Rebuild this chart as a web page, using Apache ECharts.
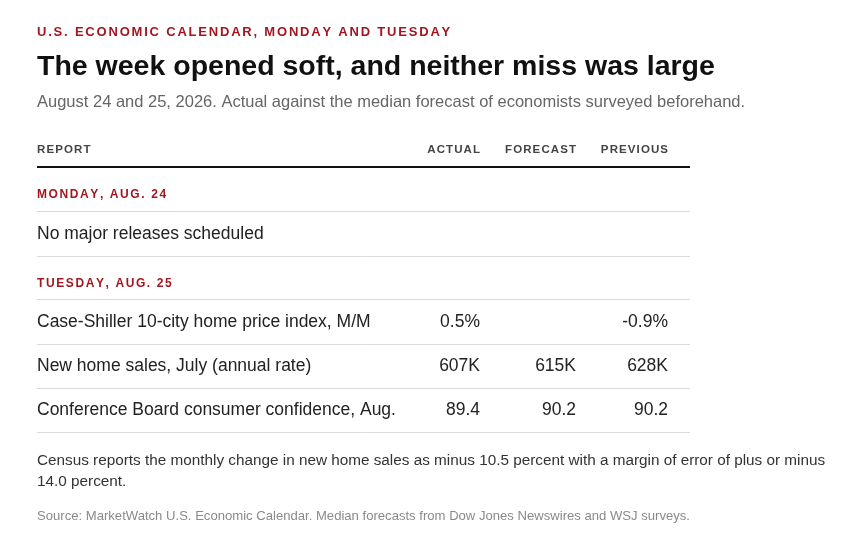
<!DOCTYPE html>
<html>
<head>
<meta charset="utf-8">
<script src="https://cdn.jsdelivr.net/npm/echarts@6/dist/echarts.min.js"></script>
<style>
  html, body { margin: 0; padding: 0; background: #fff; }
  #table1 { width: 858px; height: 555px; }
</style>
</head>
<body>
<div id="table1"></div>
<script>
  /* table data */
  var kicker = 'U.S. ECONOMIC CALENDAR, MONDAY AND TUESDAY';
  var title = 'The week opened soft, and neither miss was large';
  var subtitle = 'August 24 and 25, 2026. Actual against the median forecast of economists surveyed beforehand.';
  var columns = ['REPORT', 'ACTUAL', 'FORECAST', 'PREVIOUS'];
  var days = ['MONDAY, AUG. 24', 'TUESDAY, AUG. 25'];
  var mondayNote = 'No major releases scheduled';
  var reports = [
    'Case-Shiller 10-city home price index, M/M',
    'New home sales, July (annual rate)',
    'Conference Board consumer confidence, Aug.'
  ];
  var actual = ['0.5%', '607K', '89.4'];
  var forecast = ['', '615K', '90.2'];
  var previous = ['-0.9%', '628K', '90.2'];
  var noteLines = [
    'Census reports the monthly change in new home sales as minus 10.5 percent with a margin of error of plus or minus',
    '14.0 percent.'
  ];
  var source = 'Source: MarketWatch U.S. Economic Calendar. Median forecasts from Dow Jones Newswires and WSJ surveys.';

  var FONT = '"Liberation Sans", Arial, Helvetica, sans-serif';
  var RED = '#a3161f';
  var left = 37;
  var tableRight = 690;
  var colRight = [480, 576, 668];

  var ctx = document.createElement('canvas').getContext('2d');

  // zrender has no letter-spacing, so lay the caps out one glyph at a time
  function spaced(str, x, y, size, spacing, color, alignRight) {
    ctx.font = 'bold ' + size + 'px ' + FONT;
    var widths = str.split('').map(function (c) { return ctx.measureText(c).width; });
    var total = widths.reduce(function (a, b) { return a + b; }, 0) + spacing * (str.length - 1);
    var cx = alignRight ? x - total : x;
    var out = [];
    str.split('').forEach(function (c, i) {
      out.push({
        type: 'text', x: cx, y: y + 1.5,
        style: { text: c, fill: color, font: 'bold ' + size + 'px ' + FONT, textVerticalAlign: 'middle' }
      });
      cx += widths[i] + spacing;
    });
    return out;
  }

  function txt(str, x, y, size, color, opts) {
    opts = opts || {};
    return {
      type: 'text', x: x, y: y,
      style: {
        text: str, fill: color,
        font: (opts.bold ? 'bold ' : '') + size + 'px ' + FONT,
        textAlign: opts.align || 'left',
        textVerticalAlign: 'middle'
      }
    };
  }

  function rule(y, color, w) {
    return {
      type: 'line',
      shape: { x1: left, y1: y, x2: tableRight, y2: y },
      style: { stroke: color, lineWidth: w }
    };
  }

  var els = [];
  els = els.concat(spaced(kicker, left, 31, 13, 1.8, RED));
  els.push(txt(title, left, 67, 28.5, '#111', { bold: true }));
  els.push(txt(subtitle, left, 102, 16.5, '#666'));

  // header
  els = els.concat(spaced(columns[0], left, 148, 11.5, 1.1, '#444'));
  for (var c = 1; c < columns.length; c++) {
    els = els.concat(spaced(columns[c], colRight[c - 1], 148, 11.5, 1.1, '#444', true));
  }
  els.push(rule(167, '#111', 2));

  // monday
  els = els.concat(spaced(days[0], left, 193, 12, 1.6, RED));
  els.push(rule(211.5, '#dcdcdc', 1));
  els.push(txt(mondayNote, left, 234.5, 17.5, '#222'));
  els.push(rule(256.5, '#dcdcdc', 1));

  // tuesday
  els = els.concat(spaced(days[1], left, 282, 12, 1.6, RED));
  els.push(rule(299.5, '#dcdcdc', 1));
  for (var r = 0; r < reports.length; r++) {
    var rowY = 322.5 + r * 44;
    els.push(txt(reports[r], left, rowY, 17.5, '#222'));
    [actual[r], forecast[r], previous[r]].forEach(function (v, i) {
      if (v) els.push(txt(v, colRight[i], rowY, 17.5, '#222', { align: 'right' }));
    });
    els.push(rule(344.5 + r * 44, '#dcdcdc', 1));
  }

  noteLines.forEach(function (line, i) {
    els.push(txt(line, left, 460.5 + i * 21, 15.3, '#333'));
  });
  els.push(txt(source, left, 516, 13.1, '#8a8a8a'));

  var chart = echarts.init(document.getElementById('table1'));
  chart.setOption({
    backgroundColor: '#fff',
    animation: false,
    graphic: { elements: els }
  });
</script>
</body>
</html>
